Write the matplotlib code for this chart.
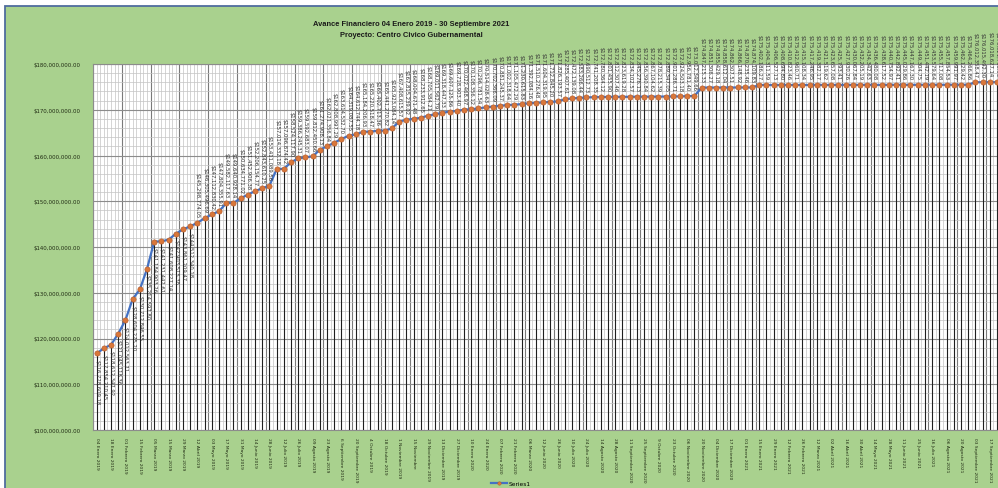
import numpy as np
import matplotlib
matplotlib.use("Agg")
import matplotlib.pyplot as plt
from matplotlib.patches import Rectangle
from matplotlib.lines import Line2D
from matplotlib.ticker import MultipleLocator, FuncFormatter

title_1 = "Avance Financiero 04 Enero 2019 - 30 Septiembre 2021"
title_2 = "Proyecto: Centro Civico Gubernamental"
series_name = "Series1"

dates = [
    "04 Enero 2019", "11 Enero 2019", "18 Enero 2019", "25 Enero 2019",
    "01 Febrero 2019", "08 Febrero 2019", "15 Febrero 2019", "22 Febrero 2019",
    "05 Marzo 2019", "08 Marzo 2019", "15 Marzo 2019", "22 Marzo 2019",
    "29 Marzo 2019", "05 Abril 2019", "12 Abril 2019", "26 Abril 2019",
    "03 Mayo 2019", "10 Mayo 2019", "17 Mayo 2019", "24 Mayo 2019",
    "31 Mayo 2019", "07 Junio 2019", "14 Junio 2019", "21 Junio 2019",
    "28 Junio 2019", "05 Julio 2019", "12 Julio 2019", "19 Julio 2019",
    "26 Julio 2019", "02 Agosto 2019", "09 Agosto 2019", "16 Agosto 2019",
    "23 Agosto 2019", "30 Agosto 2019", "6 Septiembre 2019", "13 Septiembre 2019",
    "20 Septiembre 2019", "27 Septiembre 2019", "4 Octubre 2019", "11 Octubre 2019",
    "18 Octubre 2019", "25 Octubre 2019", "1 Noviembre 2019", "8 Noviembre 2019",
    "15 Noviembre", "22 Noviembre 2019", "29 Noviembre 2019", "06 Diciembre 2019",
    "13 Diciembre 2019", "20 Diciembre 2019", "27 Diciembre 2019", "03 Enero 2020",
    "10 Enero 2020", "17 Enero 2020", "24 Enero 2020", "31 Enero 2020",
    "07 Febrero 2020", "14 Febrero 2020", "21 Febrero 2020", "28 Febrero 2020",
    "06 Marzo 2020", "13 Marzo 2020", "12 Junio 2020", "19 Junio 2020",
    "26 Junio 2020", "03 Julio 2020", "10 Julio 2020", "17 Julio 2020",
    "24 Julio 2020", "07 Agosto 2020", "14 Agosto 2020", "21 Agosto 2020",
    "28 Agosto 2020", "04 Septiembre 2020", "11 Septiembre 2020", "18 Septiembre 2020",
    "25 Septiembre 2020", "2 Octubre 2020", "9 Octubre 2020", "16 Octubre 2020",
    "23 Octubre 2020", "30 Octubre 2020", "06 Noviembre 2020", "13 Noviembre 2020",
    "20 Noviembre 2020", "27 Noviembre 2020", "04 Diciembre 2020", "11 Diciembre 2020",
    "17 Diciembre 2020", "24 Diciembre 2020", "01 Enero 2021", "08 Enero 2021",
    "15 Enero 2021", "22 Enero 2021", "29 Enero 2021", "05 Febrero 2021",
    "12 Febrero 2021", "19 Febrero 2021", "26 Febrero 2021", "05 Marzo 2021",
    "12 Marzo 2021", "26 Marzo 2021", "02 Abril 2021", "09 Abril 2021",
    "16 Abril 2021", "23 Abril 2021", "30 Abril 2021", "07 Mayo 2021",
    "14 Mayo 2021", "21 Mayo 2021", "28 Mayo 2021", "04 Junio 2021",
    "11 Junio 2021", "18 Junio 2021", "25 Junio 2021", "09 Julio 2021",
    "16 Julio 2021", "30 Julio 2021", "06 Agosto 2021", "13 Agosto 2021",
    "20 Agosto 2021", "27 Agosto 2021", "03 Septiembre 2021", "10 Septiembre 2021",
    "17 Septiembre 2021", "24 Septiembre 2021",
]

values = [
    116728609.18, 117854210.45, 118612347.92, 121045118.36, 124012563.71,
    128604275.20, 130712846.55, 135214597.80, 141184903.26, 141231442.61,
    141608227.14, 142903515.38, 143861209.47, 144512340.18, 145298774.05,
    146305496.69, 147112830.42, 147804355.91, 149582117.63, 149640928.14,
    150634771.02, 151452906.38, 152206154.77, 152843610.25, 153411089.56,
    157014332.18, 157096874.42, 158524117.90, 159386245.31, 159592683.07,
    159812450.66, 161274908.13, 162021356.84, 162808997.29, 163614532.70,
    164319087.55, 164612744.18, 165184206.93, 165220518.47, 165402713.36,
    165441270.82, 165923084.14, 167408615.57, 167815239.02, 168004671.48,
    168233912.65, 168705384.21, 169011562.79, 169318447.33, 169607125.86,
    169718903.40, 170022468.97, 170108356.12, 170296781.54, 170514028.63,
    170702366.09, 170881245.37, 171002318.64, 171105472.29, 171230615.83,
    171392084.16, 171510276.48, 171604319.95, 171712845.20, 171826193.57,
    172285407.61, 172472139.08, 172583266.44, 172690512.73, 172741208.35,
    172780364.12, 172801455.90, 172812307.46, 172823619.28, 172834102.57,
    172845276.13, 172856390.84, 172867104.62, 172878215.39, 172889347.05,
    172901286.71, 172924503.18, 172956781.40, 173012349.66, 174847215.33,
    174851306.27, 174855429.18, 174858612.04, 174862307.51, 174866148.92,
    174870235.46, 174874109.83, 175402186.27, 175404311.59, 175406527.13,
    175408694.80, 175410823.46, 175412960.71, 175415108.34, 175417246.95,
    175419382.17, 175421519.62, 175423657.08, 175425793.41, 175427930.26,
    175430067.84, 175432205.19, 175434342.63, 175436480.08, 175438617.52,
    175440754.97, 175442892.41, 175445029.86, 175447167.30, 175449304.75,
    175451442.19, 175453579.64, 175455717.08, 175457854.53, 175459991.97,
    175462129.42, 175464266.86, 176012358.47, 176015492.30, 176018627.14,
    176021760.95,
]

W, H = 998, 489
fig = plt.figure(figsize=(W / 100, H / 100), dpi=100, facecolor="white")

# chart area (green) with blue-gray border
fig.patches.append(Rectangle((5 / W, -0.05), 1.2, (H - 7) / H + 0.05,
                             transform=fig.transFigure, facecolor="#A9D18E",
                             edgecolor="#4F6C9E", lw=1.3, zorder=-10))

left, right, bottom, top = 93, 998, 431, 65
ax = fig.add_axes([left / W, (H - bottom) / H, (right - left) / W, (bottom - top) / H])
ax.set_facecolor("white")

x = np.arange(len(values))
ax.set_xlim(-0.5, 125.15)
ax.set_ylim(100e6, 180e6)

# gridlines
ax.vlines(np.arange(-0.5, len(values) + 1, 0.5), 100e6, 180e6, color="#C4C4C4", lw=0.5, zorder=0)
ax.vlines(np.arange(-0.5, len(values) + 1, 4), 100e6, 180e6, color="#7A7A7A", lw=0.8, zorder=0)
ax.yaxis.set_major_locator(MultipleLocator(10e6))
ax.yaxis.set_minor_locator(MultipleLocator(2e6))
ax.grid(axis="y", which="major", color="#8C8C8C", lw=0.8, zorder=0)
ax.grid(axis="y", which="minor", color="#C4C4C4", lw=0.5, zorder=0)
ax.set_axisbelow(True)

# drop lines
ax.vlines(x, 100e6, values, color="#1E1E1E", lw=0.8, zorder=2)

ax.plot(x, values, color="#4472C4", lw=1.6, marker="o", ms=3.8,
        mfc="#D9773A", mec="#B0592A", mew=0.4, zorder=4)

# data labels
for i, v in enumerate(values):
    txt = f"${v:,.2f}"
    if i < 14:
        ax.annotate(txt, (i, v), xytext=(0, -4), textcoords="offset points",
                    rotation=270, ha="center", va="top", fontsize=3.8,
                    color="#333333", annotation_clip=False, zorder=5)
    else:
        ax.annotate(txt, (i, v), xytext=(0, 4), textcoords="offset points",
                    rotation=270, ha="center", va="bottom", fontsize=3.8,
                    color="#333333", annotation_clip=False, zorder=5)

ax.set_xticks(x[::2])
ax.set_xticklabels(dates[::2], rotation=270, fontsize=3.2, color="#1F2A12")
ax.tick_params(axis="x", length=0, pad=5)
ax.yaxis.set_major_formatter(FuncFormatter(lambda v, p: f"${v:,.2f}"))
ax.tick_params(axis="y", which="both", length=0, pad=9, labelsize=3.9, labelcolor="#1F2A12")

for s in ax.spines.values():
    s.set_color("#8C8C8C")
    s.set_linewidth(0.8)

fig.text(411 / W, 1 - 25 / H, title_1, ha="center", va="center", fontsize=5.4,
         weight="bold", family="Liberation Sans", color="#1A1A1A")
fig.text(411 / W, 1 - 35.5 / H, title_2, ha="center", va="center", fontsize=5.4,
         weight="bold", family="Liberation Sans", color="#1A1A1A")

handle = Line2D([0], [0], color="#4472C4", lw=1.6, marker="o", ms=2.5,
                mfc="#D9773A", mec="#B0592A", mew=0.3)
fig.legend([handle], [series_name], loc="center", bbox_to_anchor=(511 / W, 1 - 484 / H),
           frameon=False, fontsize=4.2, handlelength=2.8, handletextpad=0.3)

fig.savefig("out.png", dpi=100, facecolor="white")
